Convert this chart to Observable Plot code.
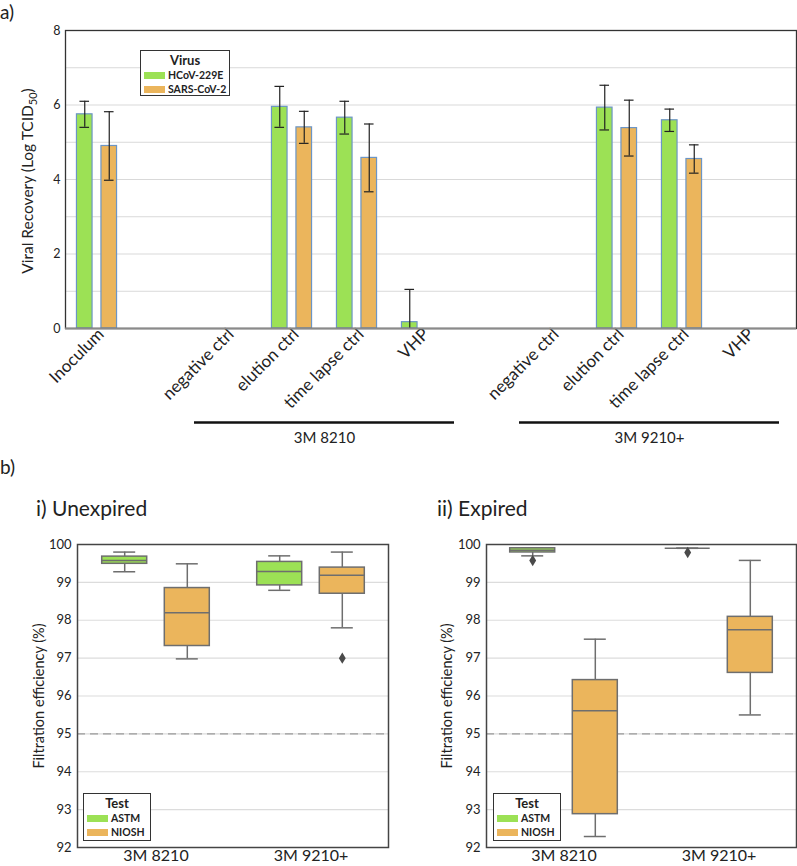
<!DOCTYPE html>
<html>
<head>
<meta charset="utf-8">
<script src="https://cdn.jsdelivr.net/npm/d3@7"></script>
<script src="https://cdn.jsdelivr.net/npm/@observablehq/plot@0.6"></script>
<style>
  html, body { margin: 0; padding: 0; background: #fff; }
  body { width: 797px; height: 866px; position: relative; overflow: hidden; font-family: Lato, "Open Sans", sans-serif; color: #222; }
  .abs { position: absolute; }
  .plabel { font-size: 19px; }
  .ptitle { font-size: 21px; }
  .legend { position: absolute; background: #fff; border: 1.5px solid #333; box-sizing: border-box; font-weight: bold; font-size: 10.5px; white-space: nowrap; }
  .legend .lt { text-align: center; font-size: 13px; line-height: 15px; margin-top: 2px; }
  .legend .li { display: flex; align-items: center; height: 14px; padding-left: 3px; }
  .legend .sw { display: inline-block; width: 21px; height: 7px; margin-right: 3px; flex: none; }
</style>
</head>
<body>
<script>
// ---------- Data: panel a ----------
const categories = ["Inoculum", "", "negative ctrl", "elution ctrl", "time lapse ctrl", "VHP", "", "negative ctrl", "elution ctrl", "time lapse ctrl", "VHP"];
const virusNames = ["HCoV-229E", "SARS-CoV-2"];
const hcovMean = [5.75, 0, 0, 5.95, 5.66, 0.17, 0, 0, 5.93, 5.59, 0];
const hcovErr  = [0.35, 0, 0, 0.55, 0.44, 0.88, 0, 0, 0.60, 0.30, 0];
const sarsMean = [4.90, 0, 0, 5.40, 4.58, 0, 0, 0, 5.38, 4.55, 0];
const sarsErr  = [0.92, 0, 0, 0.43, 0.91, 0, 0, 0, 0.75, 0.38, 0];
const yTicksA = [0, 2, 4, 6, 8];
const groupNames = ["3M 8210", "3M 9210+"];
const groupStart = [2, 7];
const groupEnd = [5, 10];

// ---------- Data: panel b ----------
const masks = ["3M 8210", "3M 9210+"];
const testNames = ["ASTM", "NIOSH"];
// [lower whisker, q1, median, q3, upper whisker] per mask
const unexpiredASTM  = [[99.28, 99.49, 99.58, 99.68, 99.80], [98.79, 98.92, 99.29, 99.54, 99.70]];
const unexpiredNIOSH = [[96.98, 97.32, 98.20, 98.85, 99.49], [97.80, 98.70, 99.19, 99.39, 99.80]];
const unexpiredOutlierMask = ["3M 9210+"];
const unexpiredOutlierTest = ["NIOSH"];
const unexpiredOutlierValue = [97.0];
const expiredASTM  = [[99.70, 99.79, 99.85, 99.90, 99.90], [99.90, 99.90, 99.90, 99.90, 99.90]];
const expiredNIOSH = [[92.29, 92.88, 95.61, 96.42, 97.50], [95.50, 96.61, 97.75, 98.09, 99.58]];
const expiredOutlierMask = ["3M 8210", "3M 9210+"];
const expiredOutlierTest = ["ASTM", "ASTM"];
const expiredOutlierValue = [99.58, 99.79];
const yTicksB = [92, 93, 94, 95, 96, 97, 98, 99, 100];
const threshold = [95];

// ---------- Styles ----------
const GREEN = "#9ce155";
const ORANGE = "#ebb55c";
const BAR_STROKE = "#6c95c5";
const BOX_STROKE = "#6e6e6e";
const FONT = "Lato, 'Open Sans', sans-serif";

function addDiv(cls, style, html) {
  const d = document.createElement("div");
  d.className = cls;
  d.setAttribute("style", style);
  if (html != null) d.innerHTML = html;
  document.body.appendChild(d);
  return d;
}

// ---------- Panel a ----------
const keys = categories.map((c, i) => `${i}|${c}`);
const fmtKey = k => k.split("|")[1];
function virusRows(name, means, errs) {
  return keys.map((k, i) => ({
    key: k, virus: name, value: means[i], err: errs[i],
    lo: Math.max(0, means[i] - errs[i]), hi: means[i] + errs[i]
  })).filter(d => d.value > 0);
}
const hcovRows = virusRows(virusNames[0], hcovMean, hcovErr);
const sarsRows = virusRows(virusNames[1], sarsMean, sarsErr);
const xOptsA = {domain: keys, padding: 0, insetLeft: -2, insetRight: 17};
const BAR_INSET = 24.7, CAP_INSET = 27.7, OFF = 12.25;

function barMarks(rows, color, dx) {
  return [
    Plot.barY(rows, {x: "key", y: "value", fill: color, stroke: BAR_STROKE, strokeWidth: 1.2, insetLeft: BAR_INSET, insetRight: BAR_INSET, dx}),
    Plot.ruleX(rows, {x: "key", y1: "lo", y2: "hi", stroke: "#222", strokeWidth: 1.2, dx}),
    Plot.tickY(rows, {x: "key", y: "hi", stroke: "#222", strokeWidth: 1.2, insetLeft: CAP_INSET, insetRight: CAP_INSET, dx}),
    Plot.tickY(rows.filter(d => d.value - d.err > 0), {x: "key", y: "lo", stroke: "#222", strokeWidth: 1.2, insetLeft: CAP_INSET, insetRight: CAP_INSET, dx})
  ];
}

const topPlot = Plot.plot({
  width: 797, height: 470,
  marginTop: 30, marginBottom: 142, marginLeft: 65, marginRight: 1,
  style: {fontFamily: FONT, fontSize: "12px", color: "#222", background: "transparent"},
  x: xOptsA,
  y: {domain: [0, 8]},
  marks: [
    Plot.gridY([1, 2, 3, 4, 5, 6, 7], {stroke: "#d9d9d9", strokeOpacity: 1, strokeWidth: 1.2}),
    Plot.axisY(yTicksA, {tickSize: 0, tickPadding: 5, label: null, fontSize: 12.5}),
    Plot.axisX({tickRotate: -45, tickSize: 0, tickPadding: 3, dx: 4, tickFormat: fmtKey, label: null, fontSize: 17}),
    ...barMarks(hcovRows, GREEN, -OFF),
    ...barMarks(sarsRows, ORANGE, OFF),
    Plot.frame({stroke: "#333", strokeWidth: 1.3}),
    Plot.ruleY([0], {stroke: "#8a8a8a", strokeWidth: 2})
  ]
});
{
  const t = d3.select(topPlot).append("text")
    .attr("transform", "translate(33,181) rotate(-90)")
    .attr("text-anchor", "middle").attr("font-size", 15.5).attr("fill", "#222")
    .attr("font-family", FONT);
  t.append("tspan").text("Viral Recovery (Log TCID");
  t.append("tspan").attr("font-size", 11).attr("dy", 4).text("50");
  t.append("tspan").attr("dy", -4).text(")");
}
addDiv("abs", "left:0;top:0;").appendChild(topPlot);

// group brackets: pixel positions come from the top plot's own x scale
const xsA = topPlot.scale("x");
const groupRows = groupNames.map((g, i) => {
  const x1 = xsA.apply(keys[groupStart[i]]);
  const x2 = xsA.apply(keys[groupEnd[i]]) + xsA.bandwidth;
  return {name: g, x1, x2, mid: (x1 + x2) / 2, level: 1};
});
const groupPlot = Plot.plot({
  width: 797, height: 50,
  marginTop: 22, marginBottom: 8, marginLeft: 0, marginRight: 0,
  style: {fontFamily: FONT, color: "#222", background: "transparent"},
  x: {type: "identity", axis: null},
  y: {domain: [0, 1], axis: null},
  marks: [
    Plot.ruleY(groupRows, {x1: "x1", x2: "x2", y: "level", stroke: "#111", strokeWidth: 2.4}),
    Plot.text(groupRows, {x: "mid", y: "level", text: "name", dy: 16, fontSize: 15, fill: "#222"})
  ]
});
addDiv("abs", "left:0;top:400px;").appendChild(groupPlot);

// legend a
{
  const colors = [GREEN, ORANGE];
  let html = `<div class="lt">Virus</div>`;
  virusNames.forEach((n, i) => { html += `<div class="li"><span class="sw" style="background:${colors[i]}"></span>${n}</div>`; });
  addDiv("legend", "left:140px;top:50px;width:90px;height:46px;", html);
}

// ---------- Panel b ----------
function boxRows(astm, niosh) {
  const rows = [];
  masks.forEach((m, i) => {
    [[testNames[0], astm], [testNames[1], niosh]].forEach(([t, arr]) => {
      const [lo, q1, med, q3, hi] = arr[i];
      rows.push({mask: m, test: t, lo, q1, med, q3, hi});
    });
  });
  return rows;
}
const thinDiamond = {
  draw(context, size) {
    const r = Math.sqrt(size) * 0.9;
    context.moveTo(0, -r);
    context.lineTo(r * 0.6, 0);
    context.lineTo(0, r);
    context.lineTo(-r * 0.6, 0);
    context.closePath();
  }
};
function boxPanel(astm, niosh, oMask, oTest, oValue, marginLeft, width, labelX) {
  const rows = boxRows(astm, niosh);
  const outliers = oMask.map((m, i) => ({mask: m, test: oTest[i], value: oValue[i]}));
  const BOX_IN = 55, CAP_IN = 66.5, DX = 31.3;
  const marks = [
    Plot.gridY(yTicksB, {stroke: "#dcdcdc", strokeOpacity: 1, strokeWidth: 1.2}),
    Plot.ruleY(threshold, {stroke: "#9a9a9a", strokeWidth: 1.3, strokeDasharray: "8,5"}),
    Plot.axisY(yTicksB, {tickSize: 0, tickPadding: 6, label: null, fontSize: 13}),
    Plot.axisX({tickSize: 0, tickPadding: 2, label: null, fontSize: 16})
  ];
  testNames.forEach((t, ti) => {
    const d = rows.filter(r => r.test === t);
    const dx = ti === 0 ? -DX : DX;
    const fill = ti === 0 ? GREEN : ORANGE;
    marks.push(
      Plot.ruleX(d, {x: "mask", y1: "lo", y2: "q1", stroke: BOX_STROKE, strokeWidth: 1.5, dx}),
      Plot.ruleX(d, {x: "mask", y1: "q3", y2: "hi", stroke: BOX_STROKE, strokeWidth: 1.5, dx}),
      Plot.tickY(d, {x: "mask", y: "lo", stroke: BOX_STROKE, strokeWidth: 1.5, insetLeft: CAP_IN, insetRight: CAP_IN, dx}),
      Plot.tickY(d, {x: "mask", y: "hi", stroke: BOX_STROKE, strokeWidth: 1.5, insetLeft: CAP_IN, insetRight: CAP_IN, dx}),
      Plot.barY(d, {x: "mask", y1: "q1", y2: "q3", fill, stroke: BOX_STROKE, strokeWidth: 1.5, insetLeft: BOX_IN, insetRight: BOX_IN, dx}),
      Plot.tickY(d, {x: "mask", y: "med", stroke: BOX_STROKE, strokeWidth: 1.5, insetLeft: BOX_IN, insetRight: BOX_IN, dx}),
      Plot.dot(outliers.filter(o => o.test === t), {x: "mask", y: "value", symbol: thinDiamond, r: 3.6, fill: "#4a4a4a", stroke: "none", dx})
    );
  });
  marks.push(Plot.frame({stroke: "#444", strokeWidth: 1.5}));
  const p = Plot.plot({
    width, height: 336,
    marginTop: 14, marginBottom: 19, marginLeft, marginRight: width === 400 ? 12 : 1,
    style: {fontFamily: FONT, fontSize: "13px", color: "#222", background: "transparent"},
    x: {domain: masks, padding: 0},
    y: {domain: [92, 100]},
    marks
  });
  d3.select(p).append("text")
    .attr("transform", `translate(${labelX},166) rotate(-90)`)
    .attr("text-anchor", "middle").attr("font-size", 14.5).attr("fill", "#222")
    .attr("font-family", FONT)
    .text("Filtration efficiency (%)");
  return p;
}

addDiv("abs plabel", "left:0;top:0;", "a)");
addDiv("abs plabel", "left:0;top:455px;", "b)");
addDiv("abs ptitle", "left:36px;top:495px;", "i) Unexpired");
addDiv("abs ptitle", "left:437px;top:495px;", "ii) Expired");

const leftPanel = boxPanel(unexpiredASTM, unexpiredNIOSH, unexpiredOutlierMask, unexpiredOutlierTest, unexpiredOutlierValue, 77, 400, 44);
addDiv("abs", "left:0;top:530px;").appendChild(leftPanel);
const rightPanel = boxPanel(expiredASTM, expiredNIOSH, expiredOutlierMask, expiredOutlierTest, expiredOutlierValue, 86, 397, 52);
addDiv("abs", "left:400px;top:530px;").appendChild(rightPanel);

// legends b
function testLegend(left) {
  const colors = [GREEN, ORANGE];
  let html = `<div class="lt">Test</div>`;
  testNames.forEach((n, i) => { html += `<div class="li"><span class="sw" style="background:${colors[i]}"></span>${n}</div>`; });
  addDiv("legend", `left:${left}px;top:793px;width:68px;height:48px;`, html);
}
testLegend(83);
testLegend(493);
</script>
</body>
</html>
